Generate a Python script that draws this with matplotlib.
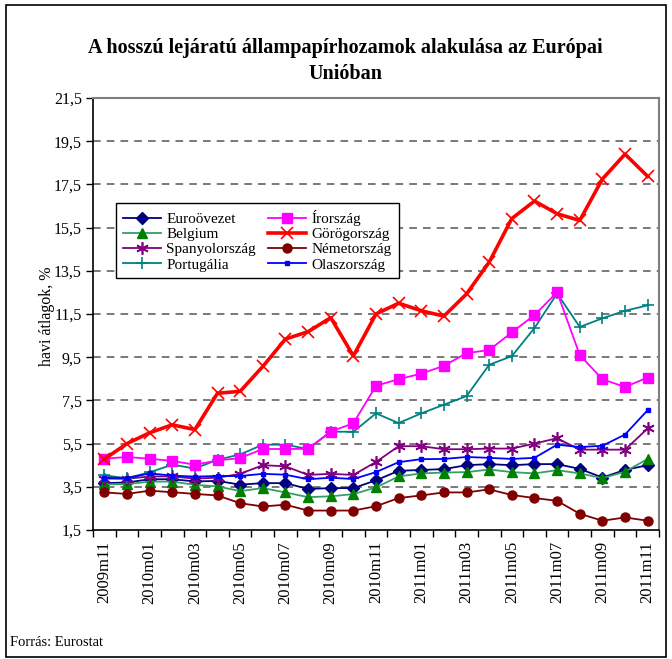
import matplotlib
matplotlib.use("Agg")
import matplotlib.pyplot as plt
from matplotlib.patches import Rectangle
import numpy as np

plt.rcParams['font.family'] = ['Liberation Serif', 'DejaVu Serif']

months = ["2009m11", "2009m12", "2010m01", "2010m02", "2010m03", "2010m04", "2010m05",
          "2010m06", "2010m07", "2010m08", "2010m09", "2010m10", "2010m11", "2010m12",
          "2011m01", "2011m02", "2011m03", "2011m04", "2011m05", "2011m06", "2011m07",
          "2011m08", "2011m09", "2011m10", "2011m11"]

euro = [3.67, 3.70, 3.85, 3.85, 3.75, 3.77, 3.60, 3.67, 3.67, 3.40, 3.44, 3.44, 3.80,
        4.24, 4.28, 4.32, 4.50, 4.55, 4.50, 4.55, 4.55, 4.33, 3.93, 4.28, 4.50]
belgium = [3.62, 3.62, 3.74, 3.74, 3.59, 3.52, 3.30, 3.44, 3.24, 3.02, 3.06, 3.16, 3.47,
           3.98, 4.12, 4.16, 4.18, 4.30, 4.18, 4.12, 4.27, 4.12, 3.90, 4.20, 4.79]
spain = [3.88, 3.87, 3.98, 3.98, 3.88, 3.92, 4.10, 4.50, 4.45, 4.05, 4.10, 4.05, 4.65,
         5.38, 5.38, 5.24, 5.24, 5.27, 5.27, 5.50, 5.75, 5.22, 5.22, 5.22, 6.20]
portugal = [4.03, 3.90, 4.17, 4.52, 4.35, 4.75, 5.00, 5.45, 5.45, 5.25, 6.05, 6.05, 6.90,
            6.45, 6.90, 7.30, 7.70, 9.15, 9.55, 10.85, 12.45, 10.90, 11.30, 11.65, 11.90]
ireland = [4.80, 4.88, 4.80, 4.70, 4.52, 4.72, 4.83, 5.25, 5.25, 5.26, 6.06, 6.44, 8.18,
           8.48, 8.74, 9.10, 9.69, 9.83, 10.65, 11.45, 12.51, 9.60, 8.48, 8.12, 8.56]
greece = [4.78, 5.50, 6.00, 6.37, 6.15, 7.83, 7.92, 9.07, 10.34, 10.68, 11.33, 9.56, 11.50,
          12.00, 11.65, 11.40, 12.43, 13.90, 15.92, 16.73, 16.14, 15.83, 17.75, 18.90, 17.87]
germany = [3.24, 3.17, 3.32, 3.25, 3.17, 3.10, 2.74, 2.59, 2.67, 2.40, 2.40, 2.40, 2.60,
           2.98, 3.10, 3.24, 3.24, 3.38, 3.12, 2.98, 2.85, 2.25, 1.93, 2.08, 1.93]
italy = [3.92, 3.90, 4.12, 4.02, 3.97, 4.00, 4.00, 4.10, 4.06, 3.85, 3.92, 3.86, 4.18,
         4.64, 4.78, 4.79, 4.88, 4.84, 4.79, 4.84, 5.45, 5.34, 5.40, 5.92, 7.05]

yticks = [1.5, 3.5, 5.5, 7.5, 9.5, 11.5, 13.5, 15.5, 17.5, 19.5, 21.5]
title = "A hosszú lejáratú állampapírhozamok alakulása az Európai\nUnióban"
ylabel = "havi átlagok, %"
source = "Forrás: Eurostat"

W, H = 672, 659
fig = plt.figure(figsize=(W / 100, H / 100), dpi=100)

def px(x0, y0, x1, y1):
    return [x0 / W, 1 - y1 / H, (x1 - x0) / W, (y1 - y0) / H]

ax = fig.add_axes(px(93, 98, 659, 530))
x = np.arange(len(months))

series = [
    ("Euroövezet", euro, dict(color="#000080", marker="D", ms=6.5, mfc="#000080", mec="#000080", lw=1.3)),
    ("Belgium", belgium, dict(color="#33A066", marker="^", ms=7.5, mfc="#008000", mec="#008000", lw=1.3)),
    ("Spanyolország", spain, dict(color="#800080", marker=(6, 2, 0), ms=9, mfc="#800080", mec="#800080", mew=1.2, lw=1.3)),
    ("Portugália", portugal, dict(color="#008080", marker="+", ms=9, mec="#008080", mew=1.2, lw=1.3)),
    ("Írország", ireland, dict(color="#FF00FF", marker="s", ms=7, mfc="#FF00FF", mec="#FF00FF", lw=1.3)),
    ("Görögország", greece, dict(color="#FF0000", marker="x", ms=8, mec="#FF0000", mew=1.2, lw=2.6)),
    ("Németország", germany, dict(color="#800000", marker="o", ms=6.5, mfc="#800000", mec="#800000", lw=1.3)),
    ("Olaszország", italy, dict(color="#0000FF", marker="s", ms=3, mfc="#0000FF", mec="#0000FF", lw=1.3)),
]

handles = []
for name, vals, kw in series:
    h, = ax.plot(x, vals, label=name, clip_on=False, zorder=3, **kw)
    handles.append(h)

ax.set_xlim(-0.5, len(months) - 0.5)
ax.set_ylim(1.5, 21.5)
ax.set_yticks(yticks)
ax.set_yticklabels([f"{v:.1f}".replace(".", ",") for v in yticks], fontsize=11.5)
for v in yticks[1:-1]:
    ax.axhline(v, color="#555555", lw=1.1, ls=(0, (5, 4)), zorder=1)

ax.set_xticks(x[::2])
ax.set_xticklabels(months[::2], rotation=90, fontsize=12)
ax.set_xticks(np.arange(-0.5, len(months)), minor=True)
ax.tick_params(axis="x", which="major", length=0, pad=8)
ax.tick_params(axis="x", which="minor", length=5, direction="out", width=1)
ax.tick_params(axis="y", length=5, direction="out", width=1, pad=3)

for s in ("left", "bottom"):
    ax.spines[s].set_color("black")
    ax.spines[s].set_linewidth(1.2)
for s in ("top", "right"):
    ax.spines[s].set_color("#808080")
    ax.spines[s].set_linewidth(1.5)

fig.text(47 / W, 1 - 316 / H, ylabel, rotation=90, ha="center", va="center", fontsize=11.5)
fig.text(345 / W, 1 - 61 / H, title, ha="center", va="center", fontsize=14.5,
         fontweight="bold", linespacing=1.45)
fig.text(10 / W, 1 - 643 / H, source, ha="left", va="center", fontsize=10.5)

leg = ax.legend(handles=handles, ncol=2, loc="upper left",
                bbox_to_anchor=((116 - 93) / 566, (530 - 203) / 432),
                fontsize=11, frameon=True, fancybox=False, framealpha=1,
                edgecolor="black", borderpad=0.45, labelspacing=0.1,
                handlelength=2.5, handletextpad=0.35, columnspacing=0.8,
                borderaxespad=0)
leg.get_frame().set_linewidth(1.0)

fig.patches.append(Rectangle((6 / W, 1 - 657 / H), 660 / W, 652 / H, transform=fig.transFigure,
                             fill=False, edgecolor="black", lw=1.2))

fig.savefig("out.png", dpi=100)
